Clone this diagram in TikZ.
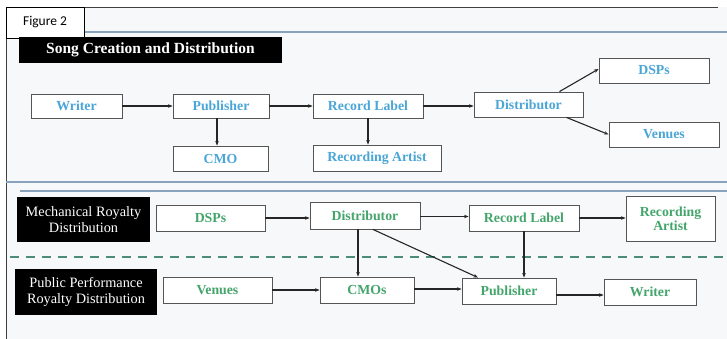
\documentclass[tikz,border=0pt]{standalone}
\usepackage{fontspec}
\setmainfont{Liberation Serif}
\newfontfamily\figfont{Carlito}
\usetikzlibrary{arrows.meta}
\definecolor{txtblue}{HTML}{4AA6D6}
\definecolor{txtgreen}{HTML}{44A56C}
\definecolor{sepblue}{HTML}{8AA3BD}
\definecolor{dashgreen}{HTML}{4A8C78}
\definecolor{bg}{HTML}{F7F8F9}
\definecolor{boxline}{HTML}{555555}
\tikzset{
  flowbox/.style={draw=boxline, line width=0.9pt, fill=white, inner sep=1pt, align=center, font=\bfseries\fontsize{13.8}{14}\selectfont},
  bluebox/.style={flowbox, text=txtblue},
  greenbox/.style={flowbox, text=txtgreen},
  titlebox/.style={fill=black, text=white, inner sep=1pt, align=center},
  conn/.style={draw=black!85, line width=1.1pt, -{Stealth[length=4.5pt,width=3.5pt]}},
  sepline/.style={draw=sepblue, line width=1.3pt}
}
\begin{document}
\begin{tikzpicture}[x=1pt,y=-1pt]
\useasboundingbox (0,0) rectangle (727,339);
% frame and background
\fill[bg] (6,7) rectangle (727,339);
\draw[black!75, line width=0.9pt] (6,339) -- (6,7) -- (718,7);
% separators
\draw[sepline] (84,32) -- (727,32);
\draw[sepline] (6,182) -- (727,182);
\draw[sepline] (20,191) -- (727,191);
\draw[draw=dashgreen, line width=2.2pt, dash pattern=on 9pt off 7pt] (10,257) -- (727,257);
% figure label
\node[draw=black, line width=0.8pt, fill=white, minimum width=78, minimum height=31, inner sep=0pt, font=\figfont\fontsize{13.5}{14}\selectfont] (fig) at (45,22.5) {Figure 2};
% section titles
\node[titlebox, minimum width=263, minimum height=26, font=\bfseries\fontsize{15.5}{16}\selectfont] (t1) at (150.5,50) {Song Creation and Distribution};
\node[titlebox, minimum width=133, minimum height=45, font=\fontsize{14.3}{16}\selectfont] (t2) at (83.5,219.5) {Mechanical Royalty\\Distribution};
\node[titlebox, minimum width=142, minimum height=46, font=\fontsize{14.3}{16}\selectfont] (t3) at (86,292) {Public Performance\\Royalty Distribution};
% top section
\node[bluebox, minimum width=91, minimum height=24] (w1) at (76.5,106) {Writer};
\node[bluebox, minimum width=96, minimum height=24] (p1) at (221,106) {Publisher};
\node[bluebox, minimum width=95, minimum height=25] (c1) at (220.5,158.5) {CMO};
\node[bluebox, minimum width=110, minimum height=24] (r1) at (368,106) {Record Label};
\node[bluebox, minimum width=128, minimum height=26] (a1) at (377,158) {Recording Artist};
\node[bluebox, minimum width=109, minimum height=25] (d1) at (528.5,104.5) {Distributor};
\node[bluebox, minimum width=110, minimum height=25] (s1) at (654,70.5) {DSPs};
\node[bluebox, minimum width=110, minimum height=25] (v1) at (664,134.5) {Venues};
\draw[conn] (w1.east) -- (w1.east -| p1.west);
\draw[conn] (p1.east) -- (p1.east -| r1.west);
\draw[conn] (r1.east) -- (r1.east -| d1.west);
\draw[conn] ([xshift=-4pt]p1.south) -- ([xshift=-4pt]p1.south |- c1.north);
\draw[conn] (r1.south) -- (r1.south |- a1.north);
\draw[conn] ([xshift=31pt]d1.north) -- ([yshift=1.5pt]s1.west);
\draw[conn] ([xshift=38pt]d1.south) -- (v1.west);
% mechanical row
\node[greenbox, minimum width=109, minimum height=26] (s2) at (210.5,218) {DSPs};
\node[greenbox, minimum width=110, minimum height=27] (d2) at (365,215.5) {Distributor};
\node[greenbox, minimum width=110, minimum height=26] (r2) at (524,218) {Record Label};
\node[greenbox, minimum width=89, minimum height=45] (a2) at (670.5,218.5) {Recording\\Artist};
% public performance row
\node[greenbox, minimum width=109, minimum height=26] (v2) at (217.5,290) {Venues};
\node[greenbox, minimum width=94, minimum height=26] (c2) at (367,290) {CMOs};
\node[greenbox, minimum width=94, minimum height=26] (p2) at (509,291) {Publisher};
\node[greenbox, minimum width=92, minimum height=26] (w2) at (650,292) {Writer};
\draw[conn] (s2.east) -- (s2.east -| d2.west);
\draw[conn] ([yshift=-1pt]d2.east) -- ([yshift=-1pt]d2.east -| r2.west);
\draw[conn] (r2.east) -- (r2.east -| a2.west);
\draw[conn] ([xshift=-7pt]d2.south) -- ([xshift=-7pt]d2.south |- c2.north);
\draw[conn] ([xshift=8pt]d2.south) -- ([xshift=-31pt]p2.north);
\draw[conn] (r2.south) -- (r2.south |- p2.north);
\draw[conn] (v2.east) -- (v2.east -| c2.west);
\draw[conn] ([yshift=1pt]c2.east) -- ([yshift=1pt]c2.east -| p2.west);
\draw[conn] ([yshift=-4pt]p2.east) -- ([yshift=-4pt]p2.east -| w2.west);
\end{tikzpicture}
\end{document}
